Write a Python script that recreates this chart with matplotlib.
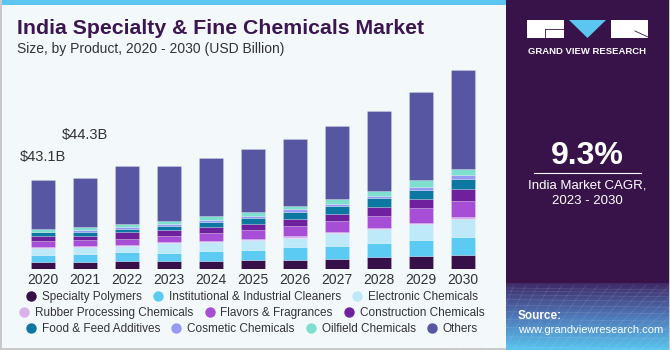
import numpy as np
import matplotlib
matplotlib.use("Agg")
import matplotlib.pyplot as plt
from matplotlib.patches import Rectangle, Polygon
from matplotlib.lines import Line2D

plt.rcParams['font.family'] = ['Liberation Sans', 'DejaVu Sans']

years = ['2020', '2021', '2022', '2023', '2024', '2025', '2026', '2027', '2028', '2029', '2030']
segments = ['Specialty Polymers', 'Institutional & Industrial Cleaners', 'Electronic Chemicals',
            'Rubber Processing Chemicals', 'Flavors & Fragrances', 'Construction Chemicals',
            'Food & Feed Additives', 'Cosmetic Chemicals', 'Oilfield Chemicals', 'Others']
colors = ['#37104a', '#5ccbf4', '#bee9f9', '#d9b2ec', '#a64fd6', '#6f209c',
          '#0c77a1', '#9898f5', '#7edfcf', '#5656a2']

specialty_polymers = [3.2, 3.2, 3.9, 3.9, 3.9, 4.5, 4.2, 4.8, 5.6, 6.3, 6.6]
institutional_cleaners = [3.7, 4.0, 4.2, 4.0, 4.7, 4.5, 6.3, 6.3, 6.8, 7.6, 8.8]
electronic_chemicals = [3.2, 3.4, 3.1, 4.5, 4.3, 5.0, 4.7, 6.3, 6.8, 7.7, 9.0]
rubber_processing = [0.5, 0.6, 0.6, 0.6, 0.6, 0.6, 1.0, 0.6, 0.6, 0.8, 1.0]
flavors_fragrances = [3.1, 2.9, 2.9, 3.1, 3.7, 4.5, 4.8, 5.3, 6.1, 7.2, 7.7]
construction_chemicals = [2.1, 2.1, 3.1, 2.9, 2.9, 2.9, 3.4, 3.5, 4.3, 4.5, 5.6]
food_feed_additives = [1.9, 1.9, 1.8, 1.6, 2.7, 2.9, 3.4, 3.7, 4.0, 4.3, 5.0]
cosmetic_chemicals = [0.3, 0.6, 0.6, 1.3, 1.0, 1.0, 1.1, 1.1, 1.3, 1.4, 1.8]
oilfield_chemicals = [1.4, 1.8, 1.8, 1.3, 1.8, 1.6, 1.6, 2.1, 2.4, 3.1, 3.1]
others = [23.6, 23.8, 28.0, 26.7, 28.0, 30.4, 32.3, 35.4, 38.4, 42.6, 47.6]

series = [specialty_polymers, institutional_cleaners, electronic_chemicals, rubber_processing,
          flavors_fragrances, construction_chemicals, food_feed_additives, cosmetic_chemicals,
          oilfield_chemicals, others]

annot_labels = ['$43.1B', '$44.3B']

W, H = 670, 350
fig = plt.figure(figsize=(6.7, 3.5), dpi=100)
fig.patch.set_facecolor('#f3f8fb')

def fx(px):
    return px / W

def fy(py):
    return 1 - py / H

# background overlay axes
bg = fig.add_axes([0, 0, 1, 1])
bg.set_xlim(0, W)
bg.set_ylim(H, 0)
bg.axis('off')
bg.add_patch(Rectangle((0, 0), 506, 5, color='#5bc6ef', lw=0))
bg.add_patch(Rectangle((0, 0), 1.5, H, color='#c9c9c9', lw=0))
bg.add_patch(Rectangle((0, H - 2.5), 506, 2.5, color='#c9c9c9', lw=0))
bg.add_patch(Rectangle((506, 0), W - 506, H, color='#37134a', lw=0))
bg.add_patch(Rectangle((W - 1.5, 0), 1.5, H, color='#c9c9c9', lw=0))

# gradient bottom of right panel
grad = np.linspace(0, 1, 100)
c0 = np.array([0x3f, 0x2a, 0x66]) / 255
c1 = np.array([0x4f, 0x78, 0xb8]) / 255
c2 = np.array([0x5a, 0xc4, 0xee]) / 255
img = np.zeros((100, 1, 3))
for i, g in enumerate(grad):
    if g < 0.5:
        img[i, 0] = c0 + (c1 - c0) * (g / 0.5)
    else:
        img[i, 0] = c1 + (c2 - c1) * ((g - 0.5) / 0.5)
bg.imshow(img, extent=(506, W - 1.5, H, 283), aspect='auto', zorder=1)
# faint grid pattern
for k in range(12):
    yy = 288 + k * k * 0.45 + k * 2.5
    bg.plot([506, W - 1.5], [yy, yy + 2], color='white', alpha=0.12, lw=0.5, zorder=2)
for k in range(-8, 20):
    x0 = 506 + k * 12
    bg.plot([x0 + 20, x0 - 10 - k * 3], [285, H], color='white', alpha=0.12, lw=0.5, zorder=2)
bg.set_xlim(0, W)
bg.set_ylim(H, 0)

# logo
bg.add_patch(Rectangle((527, 20), 37, 18, color='white', lw=0, zorder=3))
bg.add_patch(Polygon([[569, 20], [606, 20], [587.5, 38]], closed=True, color='#5bc6ef', lw=0, zorder=3))
bg.add_patch(Rectangle((611, 20), 37, 18, color='white', lw=0, zorder=3))
bg.plot([545, 564], [29, 29], color='#37134a', lw=0.6, zorder=4)
bg.plot([545, 545], [29, 38], color='#37134a', lw=0.6, zorder=4)
bg.plot([635, 648], [31, 37], color='#37134a', lw=0.6, zorder=4)
bg.text(587.5, 51, 'GRAND VIEW RESEARCH', color='white', fontsize=6.8, fontweight='bold',
        ha='center', va='center', zorder=4)

# CAGR
bg.text(587.5, 156, '9.3%', color='white', fontsize=23, fontweight='bold', ha='center', va='center', zorder=4)
bg.plot([534, 641], [173, 173], color='white', lw=0.8, zorder=4)
bg.text(587.5, 185.5, 'India Market CAGR,', color='white', fontsize=9.5, ha='center', va='center', zorder=4)
bg.text(587.5, 201, '2023 - 2030', color='white', fontsize=9.5, ha='center', va='center', zorder=4)
bg.text(518, 316, 'Source:', color='white', fontsize=8.5, fontweight='bold', ha='left', va='center', zorder=4)
bg.text(518, 330, 'www.grandviewresearch.com', color='white', fontsize=8, ha='left', va='center', zorder=4)

# titles
bg.text(17, 28.5, 'India Specialty & Fine Chemicals Market', color='#3b1650', fontsize=15.3,
        fontweight='bold', ha='left', va='center', zorder=4)
bg.text(17, 48.5, 'Size, by Product, 2020 - 2030 (USD Billion)', color='#333333', fontsize=10,
        ha='left', va='center', zorder=4)

# main chart
base_px = 269
top_px = 60
scale = 2.065
ax = fig.add_axes([fx(22), fy(base_px), fx(462), (base_px - top_px) / H])
ax.set_facecolor('none')
x = np.arange(len(years))
bottom = np.zeros(len(years))
for vals, col, name in zip(series, colors, segments):
    ax.bar(x, vals, bottom=bottom, width=0.58, color=col, edgecolor=(1, 1, 1, 0.35),
           linewidth=0.4, label=name, zorder=3)
    bottom += np.array(vals)
ax.set_xlim(-0.5, len(years) - 0.5)
ax.set_ylim(0, (base_px - top_px) / scale)
ax.set_xticks(x)
ax.set_xticklabels(years, fontsize=10, color='#333333')
ax.tick_params(axis='x', length=0, pad=3)
ax.set_yticks([])
for s in ax.spines.values():
    s.set_visible(False)

ax.text(0, bottom[0] + 11, annot_labels[0], ha='center', va='center', fontsize=10.5, color='#333333')
ax.text(1, bottom[1] + 20.5, annot_labels[1], ha='center', va='center', fontsize=10.5, color='#333333')

# legend in three rows
rows = [[0, 1, 2], [3, 4, 5], [6, 7, 8, 9]]
row_y = [297, 313, 329]
for r, yy in zip(rows, row_y):
    handles = [Line2D([0], [0], marker='o', color='none', markerfacecolor=colors[i],
                      markeredgecolor='none', markersize=7.5) for i in r]
    fig.legend(handles, [segments[i] for i in r], loc='center',
               bbox_to_anchor=(fx(252), fy(yy)), ncol=len(r), frameon=False,
               fontsize=8.5, handlelength=0.8, handletextpad=0.5, columnspacing=1.0,
               borderpad=0, labelcolor='#333333')

fig.savefig('out.png', dpi=100, facecolor=fig.get_facecolor())
